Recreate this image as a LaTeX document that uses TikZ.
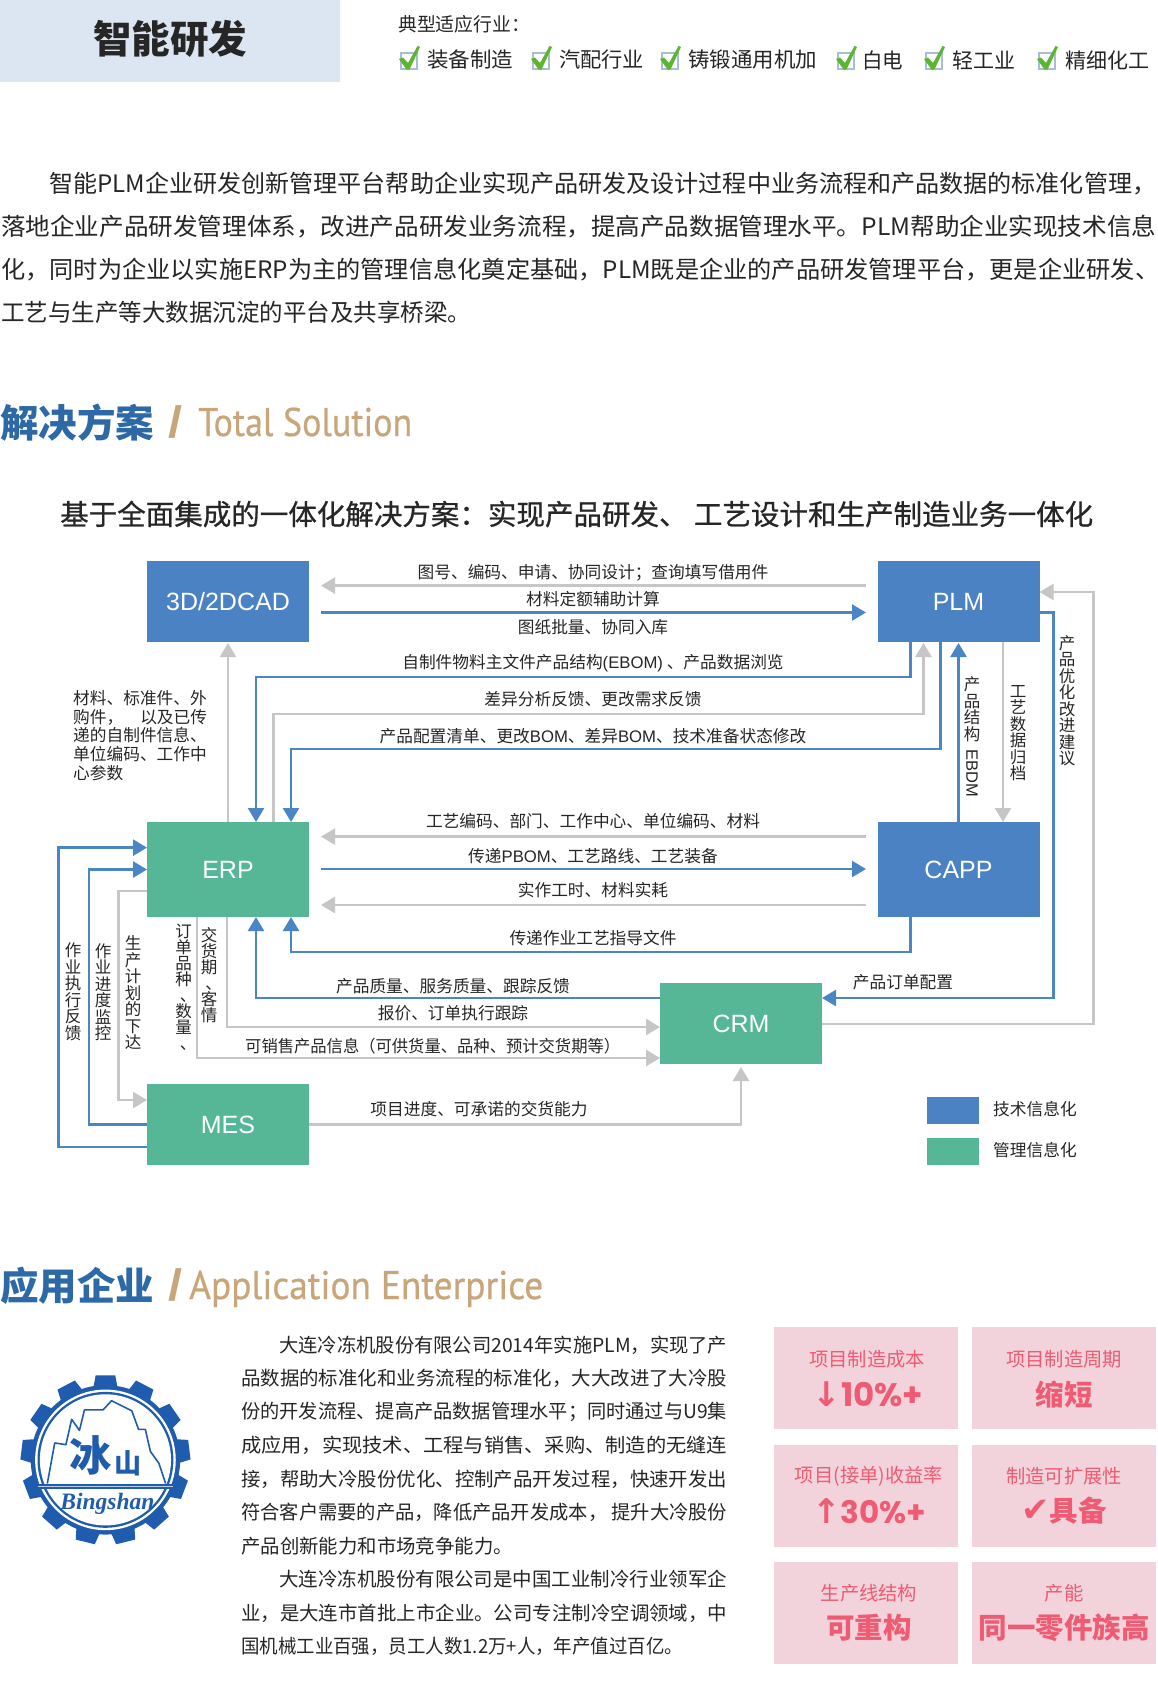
\documentclass[tikz,border=0pt]{standalone}
\usepackage{fontspec}
\usepackage{graphicx}
\usetikzlibrary{arrows.meta,calc}
\setmainfont{Noto Sans CJK SC}
\newfontfamily\arialf{Liberation Sans}
\newfontfamily\serff{Liberation Serif}
\newfontfamily\ptf[FakeBold=0.5]{PT Sans}
\newfontfamily\popf{Poppins}
\newfontfamily\djvf{DejaVu Sans}
\newfontfamily\medf[FakeBold=0.7]{Noto Sans CJK SC}
\definecolor{hdr}{HTML}{DCE6F2}
\definecolor{txt}{HTML}{262626}
\definecolor{bbox}{HTML}{4A82C3}
\definecolor{gbox}{HTML}{55B796}
\definecolor{lgray}{HTML}{C6C6C6}
\definecolor{lblue}{HTML}{4A86C5}
\definecolor{headb}{HTML}{2C69A6}
\definecolor{tan}{HTML}{C9A57A}
\definecolor{card}{HTML}{F2D3DB}
\definecolor{cardt}{HTML}{EE5B72}
\definecolor{logob}{HTML}{1F5CAE}
\definecolor{chkb}{HTML}{A8BDD8}
\definecolor{chkg}{HTML}{5CB531}
\newcommand{\fitw}[2]{\resizebox{#1pt}{\height}{#2}}
\newcommand{\vdun}{\makebox[0pt][c]{\hspace{9pt}、}}
\tikzset{
  sysbox/.style={inner sep=0,outer sep=0,text=white,font=\arialf\fontsize{25}{25}\selectfont},
  lab/.style={inner sep=0,text=txt,font=\fontsize{16.7}{16.7}\selectfont},
  vlab/.style={inner sep=0,text=txt,align=center,font=\fontsize{16.5}{16.5}\selectfont},
  ind/.style={inner sep=0,anchor=west,text=txt,font=\fontsize{21}{21}\selectfont},
  para/.style={inner sep=0,anchor=west,text=txt,font=\fontsize{24}{24}\selectfont},
  body/.style={inner sep=0,anchor=west,text=txt,font=\fontsize{19.4}{19.4}\selectfont},
  heada/.style={inner sep=0,anchor=west,text=headb,font=\bfseries\fontsize{38.5}{38.5}\selectfont},
  headb/.style={inner sep=0,anchor=base west,text=tan,font=\ptf\fontsize{40}{40}\selectfont},
  headc/.style={inner sep=0,anchor=base west,text=tan,font=\arialf\bfseries\fontsize{44}{44}\selectfont},
  cardbox/.style={fill=card,inner sep=0,outer sep=0,minimum width=184pt,minimum height=102pt},
  cardtop/.style={inner sep=0,text=cardt,font=\fontsize{19.3}{19.3}\selectfont},
  cardbig/.style={inner sep=0,text=cardt,font=\bfseries\fontsize{28.5}{28.5}\selectfont},
  cardnum/.style={inner sep=0,text=cardt,font=\popf\bfseries\fontsize{32.5}{32.5}\selectfont},
  bl/.style={draw=lblue,line width=2.5pt},
  gl/.style={draw=lgray,line width=2.5pt},
  bla/.style={bl,-{Triangle[length=14pt,width=16pt]}},
  gla/.style={gl,-{Triangle[length=14pt,width=16pt]}},
}
\begin{document}
\begin{tikzpicture}[x=1pt,y=-1pt]
\useasboundingbox (0,0) rectangle (1158,1697);
\fill[white] (0,0) rectangle (1158,1697);
% header
\node[fill=hdr,inner sep=0,outer sep=0,minimum width=340pt,minimum height=82pt] (hdrbox) at (170,41) {};
\node[inner sep=0,text=txt,font=\bfseries\fontsize{38.5}{38.5}\selectfont] (hdrtitle) at (170,39) {智能研发};
\node[ind,font=\fontsize{19}{19}\selectfont] (ind0) at (398,24) {\fitw{132}{典型适应行业：}};
\foreach \x in {400,532,661,837,925,1038}{
  \draw[chkb,line width=2pt] (\x+1,53) rectangle (\x+17,69);
  \fill[chkg] (\x-1,59) -- (\x+3,57.5) -- (\x+8,63) -- (\x+17.5,46) -- (\x+20,47) -- (\x+9.5,69.5) -- (\x+6.5,69.5) -- cycle;
}
\node[ind] (ind1) at (427,60) {\fitw{86}{装备制造}};
\node[ind] (ind2) at (559,60) {\fitw{85}{汽配行业}};
\node[ind] (ind3) at (688,60) {\fitw{129}{铸锻通用机加}};
\node[ind] (ind4) at (862,60) {\fitw{41}{白电}};
\node[ind] (ind5) at (952,60) {\fitw{63}{轻工业}};
\node[ind] (ind6) at (1065,60) {\fitw{84}{精细化工}};
% paragraph
\node[para] (p1) at (49,184) {\fitw{1107}{智能PLM企业研发创新管理平台帮助企业实现产品研发及设计过程中业务流程和产品数据的标准化管理，}};
\node[para] (p2) at (1,227) {\fitw{1155}{落地企业产品研发管理体系，改进产品研发业务流程，提高产品数据管理水平。PLM帮助企业实现技术信息}};
\node[para] (p3) at (1,270) {\fitw{1158}{化，同时为企业以实施ERP为主的管理信息化奠定基础，PLM既是企业的产品研发管理平台，更是企业研发、}};
\node[para] (p4) at (1,312.5) {\fitw{470}{工艺与生产等大数据沉淀的平台及共享桥梁。}};
% heading 1
\node[heada] (h1a) at (0,423) {解决方案};
\node[headc] (h1b) at (168,437) {\fitw{14}{/}};
\node[headb] (h1c) at (198,436) {\fitw{214}{Total Solution}};
\node[inner sep=0,anchor=west,text=txt,font=\medf\fontsize{28.3}{28.3}\selectfont] (sub) at (60,514) {\fitw{1033}{基于全面集成的一体化解决方案：实现产品研发、 工艺设计和生产制造业务一体化}};
% system boxes
\node[sysbox,fill=bbox,minimum width=162pt,minimum height=81pt] (cad) at (228,601.5) {3D/2DCAD};
\node[sysbox,fill=bbox,minimum width=162pt,minimum height=81pt] (plm) at (958.5,601.5) {PLM};
\node[sysbox,fill=gbox,minimum width=162pt,minimum height=95pt] (erp) at (228,869.5) {ERP};
\node[sysbox,fill=bbox,minimum width=162pt,minimum height=95pt] (capp) at (958.5,869.5) {CAPP};
\node[sysbox,fill=gbox,minimum width=162pt,minimum height=81pt] (crm) at (741,1023.5) {CRM};
\node[sysbox,fill=gbox,minimum width=162pt,minimum height=81pt] (mes) at (228,1124.5) {MES};
% connectors CAD-PLM
\draw[gla] ($(plm.north west)+(-11.5,24.6)$) -- ($(cad.north east)+(12,24.6)$);
\draw[bla] ($(cad.north east)+(12,51.5)$) -- ($(plm.north west)+(-11.5,51.5)$);
% PLM-ERP
\draw[bla] ($(plm.south west)+(33,0)$) -- ++(0,35) -| ($(erp.north west)+(109,0)$);
\draw[gla] ($(erp.north west)+(126.6,0)$) -- ++(0,-108) -| ($(plm.south west)+(46,1)$);
\draw[bla] ($(plm.south west)+(63,0)$) -- ++(0,107) -| ($(erp.north west)+(144,0)$);
\draw[gla] (erp.north) -- ($(cad.south)+(0,1)$);
% ERP-CAPP
\draw[gla] ($(capp.north west)+(-11.5,14.6)$) -- ($(erp.north east)+(12,14.6)$);
\draw[bla] ($(erp.north east)+(12,47)$) -- ($(capp.north west)+(-11.5,47)$);
\draw[gla] ($(capp.north west)+(-11.5,83)$) -- ($(erp.north east)+(12,83)$);
\draw[bla] ($(capp.south west)+(33,0)$) -- ++(0,35) -| ($(erp.south west)+(144,0)$);
% PLM-CAPP
\draw[bla] (capp.north) -- ($(plm.south)+(0,1)$);
\draw[gla] ($(plm.south)+(44.5,0)$) -- ($(capp.north)+(44.5,0)$);
% CRM links
\draw[bla] ($(crm.north west)+(0,15)$) -| ($(erp.south west)+(109,0)$);
\draw[gla] ($(erp.south west)+(80,0)$) |- ($(crm.north west)+(0,44)$);
\draw[gla] ($(erp.south west)+(50,0)$) |- ($(crm.north west)+(0,75)$);
\draw[gla] (mes.east) -| ($(crm.south)+(0,3)$);
\draw[bla] ($(plm.north east)+(0,51.5)$) -| ($(crm.north east)+(231.5,15)$) -- ($(crm.north east)+(0,15)$);
\draw[gla] ($(crm.north east)+(0,41)$) -| ($(plm.north east)+(54,31)$) -- ($(plm.north east)+(0,31)$);
% MES links
\draw[bla] ($(mes.north west)+(0,63)$) -| ($(erp.north west)+(-88.5,25.6)$) -- ($(erp.north west)+(0,25.6)$);
\draw[bla] (mes.west) -| ($(erp.west)+(-58,0)$) -- (erp.west);
\draw[gla] ($(erp.north west)+(0,69)$) -| ($(mes.north west)+(-28.4,16)$) -- ($(mes.north west)+(0,16)$);
% horizontal labels
\node[lab] (t1) at (593,572.5) {图号、编码、申请、协同设计；查询填写借用件};
\node[lab] (t2) at (593,599.5) {材料定额辅助计算};
\node[lab] (t3) at (593,627) {图纸批量、协同入库};
\node[lab] (t4) at (593,663.5) {自制件物料主文件产品结构{\arialf (EBOM)} 、产品数据浏览};
\node[lab] (t5) at (593,699.5) {差异分析反馈、更改需求反馈};
\node[lab] (t6) at (593,736) {产品配置清单、更改{\arialf BOM}、差异{\arialf BOM}、技术准备状态修改};
\node[lab] (t7) at (593,821) {工艺编码、部门、工作中心、单位编码、材料};
\node[lab] (t8) at (593,856) {传递{\arialf PBOM}、工艺路线、工艺装备};
\node[lab] (t9) at (593,890) {实作工时、材料实耗};
\node[lab] (t10) at (593,938) {传递作业工艺指导文件};
\node[lab] (t11) at (453,986) {产品质量、服务质量、跟踪反馈};
\node[lab] (t12) at (453,1013) {报价、订单执行跟踪};
\node[lab,anchor=west] (t13) at (245,1046) {\fitw{375}{可销售产品信息（可供货量、品种、预计交货期等）}};
\node[lab] (t14) at (479,1109) {项目进度、可承诺的交货能力};
\node[lab] (t15) at (903,982) {产品订单配置};
\node[lab,anchor=north west,align=left,font=\fontsize{16.7}{18.8}\selectfont] (t16) at (73,690) {材料、标准件、外\\购件，\hspace{17pt}以及已传\\递的自制件信息、\\单位编码、工作中\\心参数};
% vertical labels
\node[vlab] (v1) at (73,992) {作\\业\\执\\行\\反\\馈};
\node[vlab] (v2) at (103,992) {作\\业\\进\\度\\监\\控};
\node[vlab] (v3) at (133,993) {生\\产\\计\\划\\的\\下\\达};
\node[vlab,font=\fontsize{16.5}{16}\selectfont] (v4) at (183.5,987) {订\\单\\品\\种\\\vdun\\数\\量\\\vdun};
\node[vlab,font=\fontsize{16.5}{16}\selectfont] (v5) at (209,975) {交\\货\\期\\\vdun\\客\\情};
\node[vlab] (v6) at (972,737) {产\\品\\结\\构\\[-7pt]\rotatebox{-90}{\arialf EBDM}};
\node[vlab] (v7) at (1018,733) {工\\艺\\数\\据\\归\\档};
\node[vlab] (v8) at (1067,701) {产\\品\\优\\化\\改\\进\\建\\议};
% legend
\node[fill=bbox,inner sep=0,outer sep=0,minimum width=52pt,minimum height=27pt] (lg1) at (953,1110.5) {};
\node[fill=gbox,inner sep=0,outer sep=0,minimum width=52pt,minimum height=27pt] (lg2) at (953,1151.5) {};
\node[lab,anchor=west] (lt1) at (993,1109) {技术信息化};
\node[lab,anchor=west] (lt2) at (993,1150) {管理信息化};
% heading 2
\node[heada] (h2a) at (0,1285.5) {应用企业};
\node[headc] (h2b) at (168,1300) {\fitw{14}{/}};
\node[headb] (h2c) at (189,1299) {\fitw{354}{Application Enterprice}};
% logo
\begin{scope}[shift={(0,1350)},x=0.338pt,y=-0.338pt]
  \coordinate (lc) at (312,325);
  \fill[logob] (lc) circle[radius=221];
  \fill[white] (lc) circle[radius=208];
  \fill[logob] (lc) circle[radius=201];
  \fill[white] (lc) circle[radius=194];
  \foreach \a in {0,...,12}{
    \fill[logob,rotate around={\a*27.692:(lc)}] ($(lc)+(-29,-250)$) -- ($(lc)+(29,-250)$) -- ($(lc)+(36,-212)$) -- ($(lc)+(-36,-212)$) -- cycle;
  }
  \draw[logob,line width=1.6pt,line join=round] (140,395) -- (162,275) -- (195,280) -- (212,205) -- (235,238) -- (250,177) -- (305,177) -- (330,150) -- (390,180) -- (410,235) -- (430,235) -- (445,300) -- (470,335) -- (490,395);
  \fill[logob] (112,395) rectangle (512,412);
  \draw[white!70!logob,line width=0.8pt] (112,403) -- (512,403);
  \node[inner sep=0,text=logob,font=\bfseries\fontsize{42}{42}\selectfont] (lg3) at (268,312) {冰};
  \node[inner sep=0,text=logob,font=\bfseries\fontsize{27}{27}\selectfont] (lg4) at (380,335) {山};
  \node[inner sep=0,text=logob,font=\serff\bfseries\itshape\fontsize{23.5}{23.5}\selectfont] (lg5) at (318,455) {Bingshan};
\end{scope}
% company text
\node[body] (c1) at (279,1345) {\fitw{448}{大连冷冻机股份有限公司2014年实施PLM，实现了产}};
\node[body] (c2) at (241,1378.5) {\fitw{486}{品数据的标准化和业务流程的标准化，大大改进了大冷股}};
\node[body] (c3) at (241,1412) {\fitw{486}{份的开发流程、提高产品数据管理水平；同时通过与U9集}};
\node[body] (c4) at (241,1445.5) {\fitw{486}{成应用，实现技术、工程与销售、采购、制造的无缝连}};
\node[body] (c5) at (241,1479) {\fitw{486}{接，帮助大冷股份优化、控制产品开发过程，快速开发出}};
\node[body] (c6) at (241,1512.5) {\fitw{486}{符合客户需要的产品，降低产品开发成本， 提升大冷股份}};
\node[body] (c7) at (241,1546) {产品创新能力和市场竞争能力。};
\node[body] (c8) at (279,1579.5) {\fitw{448}{大连冷冻机股份有限公司是中国工业制冷行业领军企}};
\node[body] (c9) at (241,1613) {\fitw{486}{业，是大连市首批上市企业。公司专注制冷空调领域，中}};
\node[body] (c10) at (241,1646.5) {\fitw{442}{国机械工业百强，员工人数1.2万+人，年产值过百亿。}};
% cards
\node[cardbox] (k1) at (866,1378) {};
\node[cardbox] (k2) at (1064,1378) {};
\node[cardbox] (k3) at (866,1496) {};
\node[cardbox] (k4) at (1064,1496) {};
\node[cardbox] (k5) at (866,1613) {};
\node[cardbox] (k6) at (1064,1613) {};
\node[cardtop] (k1a) at ($(k1.center)+(1,-19)$) {项目制造成本};
\node[cardnum] (k1b) at ($(k1.center)+(2,16)$) {{\djvf\bfseries\fontsize{34}{34}\selectfont ↓}10\%+};
\node[cardtop] (k2a) at ($(k2.center)+(0,-19)$) {项目制造周期};
\node[cardbig] (k2b) at ($(k2.center)+(0,16)$) {缩短};
\node[cardtop] (k3a) at ($(k3.center)+(3,-20)$) {项目(接单)收益率};
\node[cardnum] (k3b) at ($(k3.center)+(3,15)$) {{\djvf\bfseries\fontsize{34}{34}\selectfont ↑}\fontsize{31}{31}\selectfont 30\%+};
\node[cardtop] (k4a) at ($(k4.center)+(0,-20)$) {制造可扩展性};
\node[cardbig] (k4b) at ($(k4.center)+(0,15)$) {{\djvf\bfseries\fontsize{34}{34}\selectfont ✔}具备};
\node[cardtop] (k5a) at ($(k5.center)+(3,-20)$) {生产线结构};
\node[cardbig] (k5b) at ($(k5.center)+(3,15)$) {可重构};
\node[cardtop] (k6a) at ($(k6.center)+(0,-20)$) {产能};
\node[cardbig] (k6b) at ($(k6.center)+(0,15)$) {同一零件族高};
\end{tikzpicture}
\end{document}
